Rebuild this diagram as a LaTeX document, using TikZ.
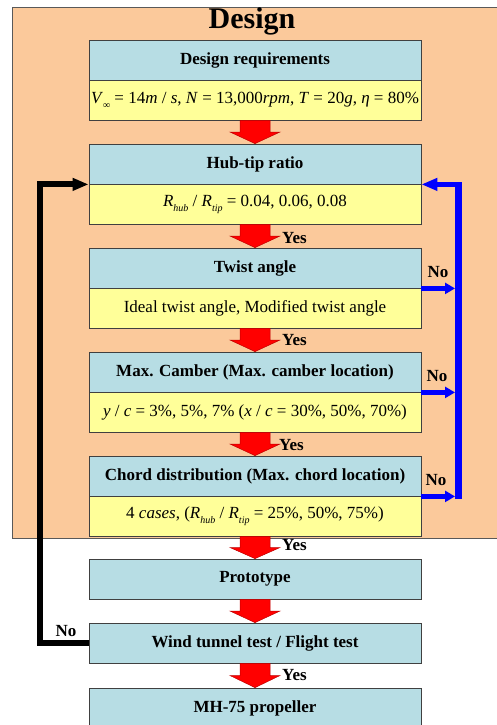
\documentclass[tikz,border=0pt]{standalone}
\usepackage{fontspec}
\setmainfont{Liberation Serif}
\usetikzlibrary{arrows.meta,calc}
\definecolor{bgorange}{RGB}{251,201,155}
\definecolor{hdrblue}{RGB}{183,221,228}
\definecolor{bodyyellow}{RGB}{255,255,153}
\definecolor{boxline}{RGB}{64,64,64}
\definecolor{bluearr}{RGB}{0,0,255}
\newcommand\sub[1]{\raisebox{-0.3em}{\fontsize{10}{10}\selectfont\itshape #1}}
\newcommand\redarr[2]{\path[redarrow] ($(#1.south)+(-15,0)$) -- ($(#1.south)+(15,0)$) -- ($(#1.south)!0.5!(#2.north)+(15,0)$) -- ($(#1.south)!0.5!(#2.north)+(25,0)$) -- (#2.north) -- ($(#1.south)!0.5!(#2.north)+(-25,0)$) -- ($(#1.south)!0.5!(#2.north)+(-15,0)$) -- cycle;}
\begin{document}
\begin{tikzpicture}[x=1pt,y=-1pt,
  hdr/.style={draw=boxline, line width=0.8pt, fill=hdrblue, minimum width=332pt, minimum height=40pt, inner sep=0pt, font=\fontsize{17}{20}\selectfont\bfseries},
  bdy/.style={hdr, fill=bodyyellow, font=\fontsize{17}{20}\selectfont},
  lab/.style={font=\fontsize{17}{20}\selectfont\bfseries, inner sep=0pt},
  redarrow/.style={fill=red, draw=red!75!black, line width=0.5pt},
  bluel/.style={draw=bluearr, line width=5.5pt},
  blackl/.style={draw=black, line width=6pt},
  bigtip/.style={-{Triangle[length=16pt,width=12pt]}},
  smalltip/.style={-{Triangle[length=10pt,width=11pt]}}
]
\useasboundingbox (0,0) rectangle (496,725);
\path[fill=bgorange, draw=gray!70!black, line width=0.6pt] (12,7) rectangle (500,538);
\node[font=\fontsize{30}{32}\selectfont\bfseries, inner sep=0pt] (title) at (252,21) {Design};

\node[hdr] (dr) at (255,60) {Design requirements};
\node[bdy] (drb) at (255,100) {\textit{V}\sub{∞} = 14\textit{m} / \textit{s}, \textit{N} = 13,000\textit{rpm}, \textit{T} = 20\textit{g}, \textit{η} = 80\%};
\node[hdr] (ht) at (255,164) {Hub-tip ratio};
\node[bdy] (htb) at (255,204) {\textit{R}\sub{hub} / \textit{R}\sub{tip} = 0.04, 0.06, 0.08};
\node[hdr] (tw) at (255,268) {Twist angle};
\node[bdy] (twb) at (255,308) {Ideal twist angle, Modified twist angle};
\node[hdr] (mc) at (255,372) {Max. Camber (Max. camber location)};
\node[bdy] (mcb) at (255,412) {\textit{y} / \textit{c} = 3\%, 5\%, 7\% (\textit{x} / \textit{c} = 30\%, 50\%, 70\%)};
\node[hdr] (cd) at (255,476) {Chord distribution (Max. chord location)};
\node[bdy] (cdb) at (255,516) {4 \textit{cases}, (\textit{R}\sub{hub} / \textit{R}\sub{tip} = 25\%, 50\%, 75\%)};
\node[hdr] (pr) at (255,579) {Prototype};
\node[hdr] (wt) at (255,643) {Wind tunnel test / Flight test};
\node[hdr] (mh) at (255,708) {MH-75 propeller};

\redarr{drb}{ht}
\redarr{htb}{tw}
\redarr{twb}{mc}
\redarr{mcb}{cd}
\redarr{cdb}{pr}
\redarr{pr}{wt}
\redarr{wt}{mh}

\node[lab, anchor=west] (y1) at (282,238) {Yes};
\node[lab, anchor=west] (y2) at (282,340) {Yes};
\node[lab, anchor=west] (y3) at (279,445) {Yes};
\node[lab, anchor=west] (y4) at (282,545) {Yes};
\node[lab, anchor=west] (y5) at (282,675) {Yes};

\coordinate (bx) at (458,0);
\coordinate (kx) at (40,0);
\draw[bluel, line width=7pt] ($(cd.south east -| bx)+(0,2.75)$) -- ($(ht.south east -| bx)+(0,-2.75)$);
\draw[bluel, bigtip] ($(ht.south east -| bx)+(3.5,0)$) -- (ht.south east);
\draw[bluel, smalltip, shorten >=3pt] (tw.south east) -- (tw.south east -| bx);
\draw[bluel, smalltip, shorten >=3pt] (mc.south east) -- (mc.south east -| bx);
\draw[bluel, smalltip, shorten >=3pt] (cd.south east) -- (cd.south east -| bx);
\node[lab] (n1) at (438,272) {No};
\node[lab] (n2) at (437,376) {No};
\node[lab] (n3) at (436,480) {No};

\draw[blackl, bigtip, line join=miter] (wt.west) -- (wt.west -| kx) |- (ht.south west);
\node[lab] (n4) at (66,631) {No};
\end{tikzpicture}
\end{document}
